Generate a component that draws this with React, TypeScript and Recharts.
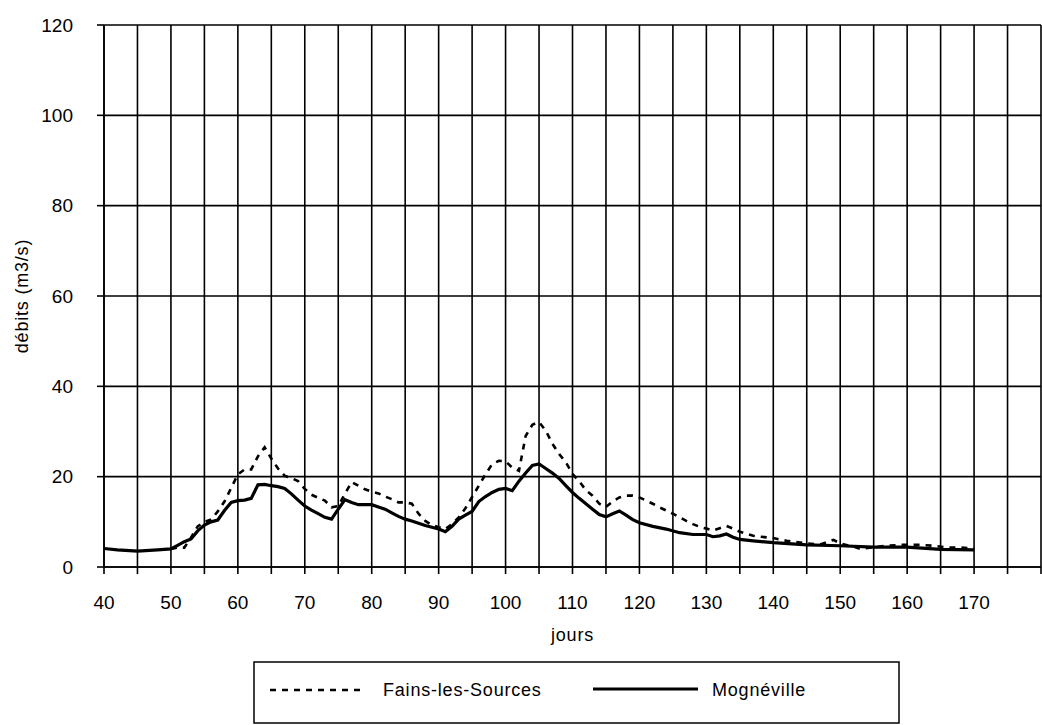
import React from 'react';
import { LineChart, Line, XAxis, YAxis, CartesianGrid } from 'recharts';

const mognevilleDays = [40, 42, 45, 48, 50, 51, 52, 53, 54, 55, 56, 57, 58, 59, 60, 61, 62, 63, 64, 65, 66, 67, 68, 69, 70, 71, 72, 73, 74, 75, 76, 77, 78, 79, 80, 81, 82, 83, 84, 85, 86, 88, 90, 91, 92, 93, 94, 95, 96, 97, 98, 99, 100, 101, 102, 103, 104, 105, 106, 107, 108, 109, 110, 111, 112, 113, 114, 115, 116, 117, 118, 119, 120, 122, 124, 126, 128, 130, 131, 132, 133, 134, 135, 137, 140, 145, 150, 155, 160, 165, 170];
const mognevilleFlow = [4.1, 3.8, 3.5, 3.8, 4.0, 4.8, 5.6, 6.2, 8.0, 9.3, 10.0, 10.4, 12.5, 14.3, 14.7, 14.8, 15.2, 18.2, 18.3, 18.0, 17.8, 17.4, 16.2, 14.8, 13.5, 12.6, 11.8, 11.0, 10.6, 12.8, 14.9, 14.3, 13.8, 13.8, 13.8, 13.3, 12.8, 12.0, 11.2, 10.6, 10.2, 9.2, 8.4, 7.8, 9.0, 10.6, 11.5, 12.3, 14.5, 15.6, 16.5, 17.2, 17.4, 16.9, 19.0, 20.8, 22.5, 22.8, 21.8, 20.8, 19.6, 18.0, 16.5, 15.2, 14.0, 12.8, 11.6, 11.1, 11.8, 12.4, 11.5, 10.5, 9.8, 9.0, 8.4, 7.6, 7.2, 7.2, 6.7, 6.9, 7.3, 6.6, 6.1, 5.8, 5.4, 4.9, 4.7, 4.4, 4.4, 3.9, 3.8];

const fainsDays = [50, 51, 52, 53, 54, 55, 56, 57, 58, 59, 60, 61, 62, 63, 64, 65, 66, 67, 68, 69, 70, 71, 72, 73, 74, 75, 76, 77, 78, 79, 80, 81, 82, 83, 84, 85, 86, 87, 88, 89, 90, 91, 92, 93, 94, 95, 96, 97, 98, 99, 100, 101, 102, 103, 104, 105, 106, 107, 108, 109, 110, 111, 112, 113, 114, 115, 116, 117, 118, 119, 120, 121, 122, 123, 125, 126, 127, 128, 129, 130, 131, 132, 133, 134, 135, 137, 140, 142, 145, 147, 149, 150, 152, 153, 155, 157, 159, 162, 164, 166, 168, 170];
const fainsFlow = [4.0, 4.3, 4.3, 6.5, 9.0, 10.0, 10.5, 12.3, 14.5, 17.5, 20.5, 21.6, 21.6, 24.5, 26.5, 24.0, 21.8, 20.2, 19.7, 19.0, 17.3, 16.0, 15.3, 14.7, 13.2, 13.5, 16.2, 18.8, 18.0, 17.2, 16.7, 16.3, 15.6, 15.0, 14.3, 14.3, 14.0, 11.8, 10.2, 9.3, 8.8, 8.4, 9.5, 11.0, 13.0, 15.5, 18.0, 20.5, 22.8, 23.5, 23.4, 22.0, 21.3, 29.0, 31.5, 32.1, 30.2, 27.3, 25.0, 23.2, 20.6, 19.0, 17.0, 15.8, 14.0, 13.3, 14.5, 15.4, 15.8, 15.8, 15.4, 14.7, 14.0, 13.2, 11.8, 11.0, 10.2, 9.5, 8.9, 8.5, 8.1, 8.6, 9.1, 8.5, 7.8, 6.9, 6.4, 5.8, 5.2, 5.0, 6.0, 5.2, 4.5, 4.0, 4.4, 4.7, 4.9, 4.9, 4.7, 4.3, 4.3, 4.1];

const xTicks = [40, 45, 50, 55, 60, 65, 70, 75, 80, 85, 90, 95, 100, 105, 110, 115, 120, 125, 130, 135, 140, 145, 150, 155, 160, 165, 170, 175, 180];
const xTickLabels = [40, 50, 60, 70, 80, 90, 100, 110, 120, 130, 140, 150, 160, 170];
const yTicks = [0, 20, 40, 60, 80, 100, 120];

const seriesNames = ['Fains-les-Sources', 'Mognéville'];
const xTitle = 'jours';
const yTitle = 'débits (m3/s)';

const mognevilleData = mognevilleDays.map((d, i) => ({ day: d, flow: mognevilleFlow[i] }));
const fainsData = fainsDays.map((d, i) => ({ day: d, flow: fainsFlow[i] }));

const FONT = '"Liberation Sans", Arial, Helvetica, sans-serif';

export default function App() {
  return (
    <div style={{ position: 'absolute', left: 0, top: 0, width: 1042, height: 725, background: '#fff', fontFamily: FONT }}>
      <LineChart width={1042} height={725} margin={{ top: 25, right: 1, left: 0, bottom: 0 }}>
        <CartesianGrid stroke="#000" strokeWidth={1.6} />
        <XAxis
          dataKey="day"
          type="number"
          domain={[40, 180]}
          ticks={xTicks}
          interval={0}
          allowDataOverflow
          tickFormatter={(v: number) => (xTickLabels.includes(v) ? String(v) : '')}
          height={158}
          tickSize={7}
          tickMargin={22}
          axisLine={{ stroke: '#000', strokeWidth: 1.6 }}
          tickLine={{ stroke: '#000', strokeWidth: 1.6 }}
          tick={{ fill: '#000', fontSize: 19, fontFamily: FONT }}
          label={(props: any) => {
            const vb = props.viewBox;
            return (
              <text x={vb.x + vb.width / 2} y={vb.y + 74} textAnchor="middle" fill="#000" fontSize={18} fontFamily={FONT} letterSpacing={0.8}>
                {xTitle}
              </text>
            );
          }}
        />
        <YAxis
          type="number"
          domain={[0, 120]}
          ticks={yTicks}
          interval={0}
          width={104}
          tickSize={7}
          tickMargin={24}
          axisLine={{ stroke: '#000', strokeWidth: 1.6 }}
          tickLine={{ stroke: '#000', strokeWidth: 1.6 }}
          tick={{ fill: '#000', fontSize: 19, fontFamily: FONT }}
          label={(props: any) => {
            const vb = props.viewBox;
            const cx = 28;
            const cy = vb.y + vb.height / 2;
            return (
              <text x={cx} y={cy} textAnchor="middle" transform={`rotate(-90 ${cx} ${cy})`} fill="#000" fontSize={18} fontFamily={FONT} letterSpacing={0.8}>
                {yTitle}
              </text>
            );
          }}
        />
        <Line data={fainsData} dataKey="flow" name={seriesNames[0]} type="linear" stroke="#000" strokeWidth={2.6} strokeDasharray="6 6" dot={false} activeDot={false} isAnimationActive={false} />
        <Line data={mognevilleData} dataKey="flow" name={seriesNames[1]} type="linear" stroke="#000" strokeWidth={3.2} dot={false} activeDot={false} isAnimationActive={false} />
      </LineChart>
      <svg width={1042} height={725} style={{ position: 'absolute', left: 0, top: 0, pointerEvents: 'none' }}>
        <rect x={254} y={662} width={645} height={61} fill="none" stroke="#000" strokeWidth={1.5} />
        <line x1={270} y1={690} x2={364} y2={690} stroke="#000" strokeWidth={2.6} strokeDasharray="6 6" />
        <text x={383} y={696} fill="#000" fontSize={18} fontFamily={FONT} letterSpacing={0.8}>{seriesNames[0]}</text>
        <line x1={593} y1={689} x2={698} y2={689} stroke="#000" strokeWidth={3} />
        <text x={712} y={696} fill="#000" fontSize={18} fontFamily={FONT} letterSpacing={0.8}>{seriesNames[1]}</text>
      </svg>
    </div>
  );
}
